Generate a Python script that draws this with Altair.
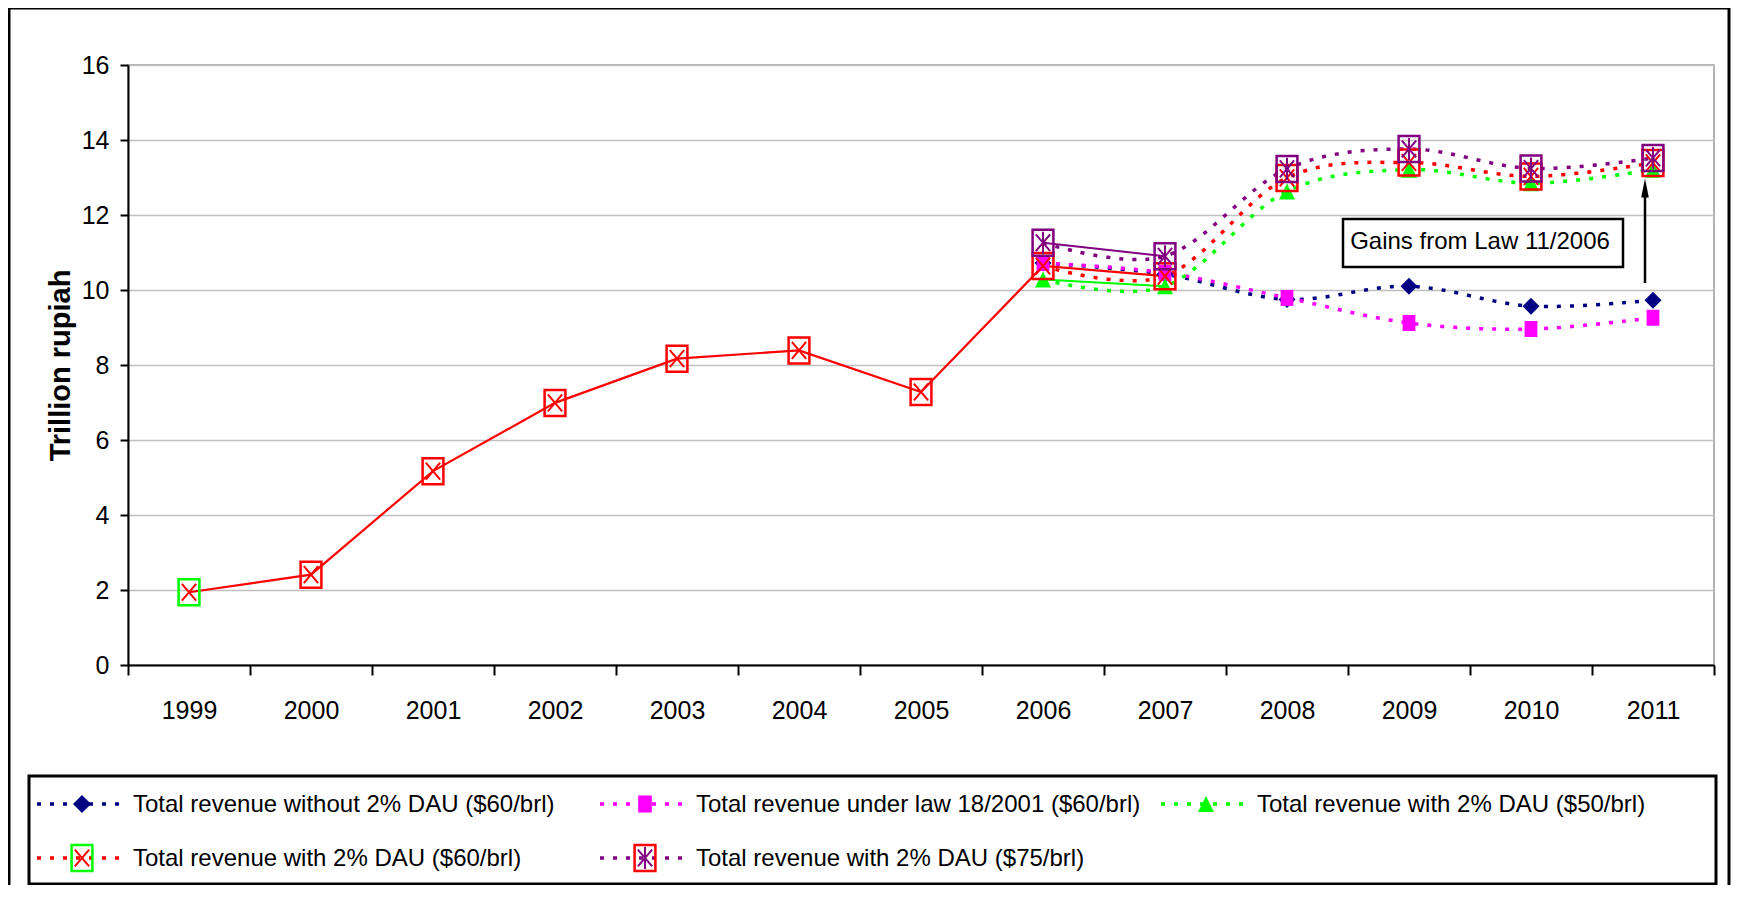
import altair as alt
import pandas as pd

# ---------------- data ----------------
years = [str(y) for y in range(1999, 2012)]
hist_years = years[:7]                      # 1999-2005
hist_values = [1.94, 2.41, 5.17, 6.99, 8.17, 8.39, 7.28]
proj_years = years[7:]                      # 2006-2011

series_names = [
    "Total revenue without 2% DAU ($60/brl)",
    "Total revenue under law 18/2001 ($60/brl)",
    "Total revenue with 2% DAU ($50/brl)",
    "Total revenue with 2% DAU ($60/brl)",
    "Total revenue with 2% DAU ($75/brl)",
]
without_dau_60 = [10.72, 10.42, 9.75, 10.10, 9.57, 9.73]
law18_60 = [10.72, 10.46, 9.79, 9.12, 8.96, 9.26]
dau_50 = [10.28, 10.10, 12.63, 13.21, 12.85, 13.21]
dau_60 = [10.64, 10.37, 12.99, 13.40, 13.03, 13.39]
dau_75 = [11.26, 10.90, 13.23, 13.76, 13.24, 13.52]
series_colors = ["#000080", "#FF00FF", "#00FF00", "#FF0000", "#800080"]

y_ticks = [0, 2, 4, 6, 8, 10, 12, 14, 16]
y_title = "Trillion rupiah"
annotation_text = "Gains from Law 11/2006"

# ---------------- styling / layout ----------------
FONT = "Liberation Sans, Arial, sans-serif"
W, H = 1586, 600
FS = 24
TFS = 25
DASH = [4, 9]

BOX = "M-0.8,-1L0.8,-1L0.8,1L-0.8,1Z"
XMARK = "M-0.55,-0.65L0.55,0.65M0.55,-0.65L-0.55,0.65"
ASTER = "M-0.55,-0.65L0.55,0.65M0.55,-0.65L-0.55,0.65M0,-0.85L0,0.85"
DIAMOND = "M0,-1L1,0L0,1L-1,0Z"
TRI = "M0,-1L1,1L-1,1Z"
HEAD = "M0,-1L0.4,1L-0.4,1Z"

x_scale = alt.Scale(type="band", domain=years, paddingInner=0, paddingOuter=0)
y_scale = alt.Scale(domain=[0, 16], nice=False, zero=True)

x_axis = alt.Axis(title=None, labelAngle=0, labelFont=FONT, labelFontSize=TFS,
                  labelColor="black", labelPadding=23, tickBand="extent",
                  tickSize=10, tickWidth=2, tickColor="black", domainColor="black",
                  domainWidth=2, grid=False)
y_axis = alt.Axis(title=y_title, values=y_ticks, labelFont=FONT, labelFontSize=TFS,
                  labelColor="black", labelPadding=11, tickSize=8, tickWidth=2,
                  tickColor="black", domainColor="black", domainWidth=2,
                  grid=True, gridColor="#c0c0c0", gridWidth=1.5,
                  titleFont=FONT, titleFontSize=29, titleFontWeight="bold",
                  titleColor="black", titleX=-68, titleY=300, titleAngle=270,
                  titleAlign="center", titleBaseline="middle")

X = alt.X("year:N", scale=x_scale, axis=x_axis)
Y = alt.Y("value:Q", scale=y_scale, axis=y_axis)
color_scale = alt.Scale(domain=series_names, range=series_colors)

def frame(ys, vals, name=None):
    d = pd.DataFrame({"year": ys, "value": vals})
    if name is not None:
        d["series"] = name
    return d

proj_df = pd.concat([frame(proj_years, v, n) for n, v in
                     zip(series_names, [without_dau_60, law18_60, dau_50, dau_60, dau_75])])

layers = []

# dotted, smoothed projection lines
layers.append(alt.Chart(proj_df).mark_line(interpolate="cardinal", strokeDash=DASH,
                                            strokeWidth=3.5).encode(
    x=X, y=Y, detail="series:N",
    color=alt.Color("series:N", scale=color_scale, legend=None)))

# solid lines
red_solid = frame(hist_years + proj_years[:2], hist_values + dau_60[:2])
layers.append(alt.Chart(red_solid).mark_line(color="#FF0000", strokeWidth=2.2).encode(x=X, y=Y))
layers.append(alt.Chart(frame(proj_years[:2], dau_50[:2])).mark_line(
    color="#00FF00", strokeWidth=2).encode(x=X, y=Y))
layers.append(alt.Chart(frame(proj_years[:2], dau_75[:2])).mark_line(
    color="#800080", strokeWidth=2).encode(x=X, y=Y))

# markers
layers.append(alt.Chart(frame(proj_years, without_dau_60)).mark_point(
    shape=DIAMOND, filled=True, color="#000080", size=289, opacity=1).encode(x=X, y=Y))
layers.append(alt.Chart(frame(proj_years, law18_60)).mark_point(
    shape=BOX, filled=True, color="#FF00FF", size=256, opacity=1).encode(x=X, y=Y))
layers.append(alt.Chart(frame(proj_years, dau_50)).mark_point(
    shape=TRI, filled=True, color="#00FF00", size=256, opacity=1).encode(x=X, y=Y))
red_all = frame(hist_years + proj_years, hist_values + dau_60)
layers.append(alt.Chart(red_all.iloc[:1]).mark_point(
    shape=BOX, filled=False, color="#00FF00", size=676, strokeWidth=2.5, opacity=1).encode(x=X, y=Y))
layers.append(alt.Chart(red_all.iloc[1:]).mark_point(
    shape=BOX, filled=False, color="#FF0000", size=676, strokeWidth=2.5, opacity=1).encode(x=X, y=Y))
layers.append(alt.Chart(red_all).mark_point(
    shape=XMARK, filled=False, color="#FF0000", size=676, strokeWidth=2, opacity=1).encode(x=X, y=Y))
layers.append(alt.Chart(frame(proj_years, dau_75)).mark_point(
    shape=BOX, filled=False, color="#800080", size=676, strokeWidth=2.5, opacity=1).encode(x=X, y=Y))
layers.append(alt.Chart(frame(proj_years, dau_75)).mark_point(
    shape=ASTER, filled=False, color="#800080", size=676, strokeWidth=2, opacity=1).encode(x=X, y=Y))

dummy = pd.DataFrame({"d": [0]})

# annotation: box, text, arrow
layers.append(alt.Chart(dummy).mark_rect(fillOpacity=0, stroke="black", strokeWidth=2.5).encode(
    x=alt.value(1215), x2=alt.value(1495), y=alt.value(154), y2=alt.value(202)))
layers.append(alt.Chart(dummy).mark_text(font=FONT, fontSize=FS, color="black",
                                         align="center", baseline="middle").encode(
    x=alt.value(1352), y=alt.value(177), text=alt.value(annotation_text)))
layers.append(alt.Chart(dummy).mark_rule(color="black", strokeWidth=2.5).encode(
    x=alt.value(1517), y=alt.value(218), y2=alt.value(130)))
layers.append(alt.Chart(dummy).mark_point(shape=HEAD, filled=True, color="black",
                                          size=361, opacity=1).encode(
    x=alt.value(1517), y=alt.value(123)))

# outer chart border and legend box
layers.append(alt.Chart(dummy).mark_rect(fillOpacity=0, stroke="black", strokeWidth=3).encode(
    x=alt.value(-119), x2=alt.value(1601), y=alt.value(-57), y2=alt.value(900)))
layers.append(alt.Chart(dummy).mark_rect(fillOpacity=0, stroke="black", strokeWidth=3).encode(
    x=alt.value(-99), x2=alt.value(1588), y=alt.value(711), y2=alt.value(819)))

# legend entries
col_x = [-91, 472, 1033]
row_y = [739, 793]
slots = [(0, 0), (1, 0), (2, 0), (0, 1), (1, 1)]
marker_specs = [
    [(DIAMOND, True, "#000080", 324, 0)],
    [(BOX, True, "#FF00FF", 289, 0)],
    [(TRI, True, "#00FF00", 256, 0)],
    [(BOX, False, "#00FF00", 676, 2.5), (XMARK, False, "#FF0000", 676, 2)],
    [(BOX, False, "#FF0000", 676, 2.5), (ASTER, False, "#800080", 676, 2)],
]
for i, name in enumerate(series_names):
    c, r = slots[i]
    x0 = col_x[c]
    yy = row_y[r]
    layers.append(alt.Chart(dummy).mark_rule(color=series_colors[i], strokeWidth=3.5,
                                             strokeDash=DASH).encode(
        x=alt.value(x0), x2=alt.value(x0 + 84), y=alt.value(yy)))
    for shp, filled, colr, sz, sw in marker_specs[i]:
        kw = dict(shape=shp, filled=filled, color=colr, size=sz, opacity=1)
        if not filled:
            kw["strokeWidth"] = sw
        layers.append(alt.Chart(dummy).mark_point(**kw).encode(
            x=alt.value(x0 + 45), y=alt.value(yy)))
    layers.append(alt.Chart(dummy).mark_text(font=FONT, fontSize=FS, color="black",
                                             align="left", baseline="middle").encode(
        x=alt.value(x0 + 96), y=alt.value(yy + 1), text=alt.value(name)))

chart = alt.layer(*layers).properties(
    width=W, height=H, autosize="none",
    padding={"left": 120, "top": 57, "right": 18, "bottom": 220},
    background="white",
).configure_view(stroke="#9a9a9a", strokeWidth=1.5)

chart.save("out.html", embed_options={"renderer": "svg", "actions": False})
